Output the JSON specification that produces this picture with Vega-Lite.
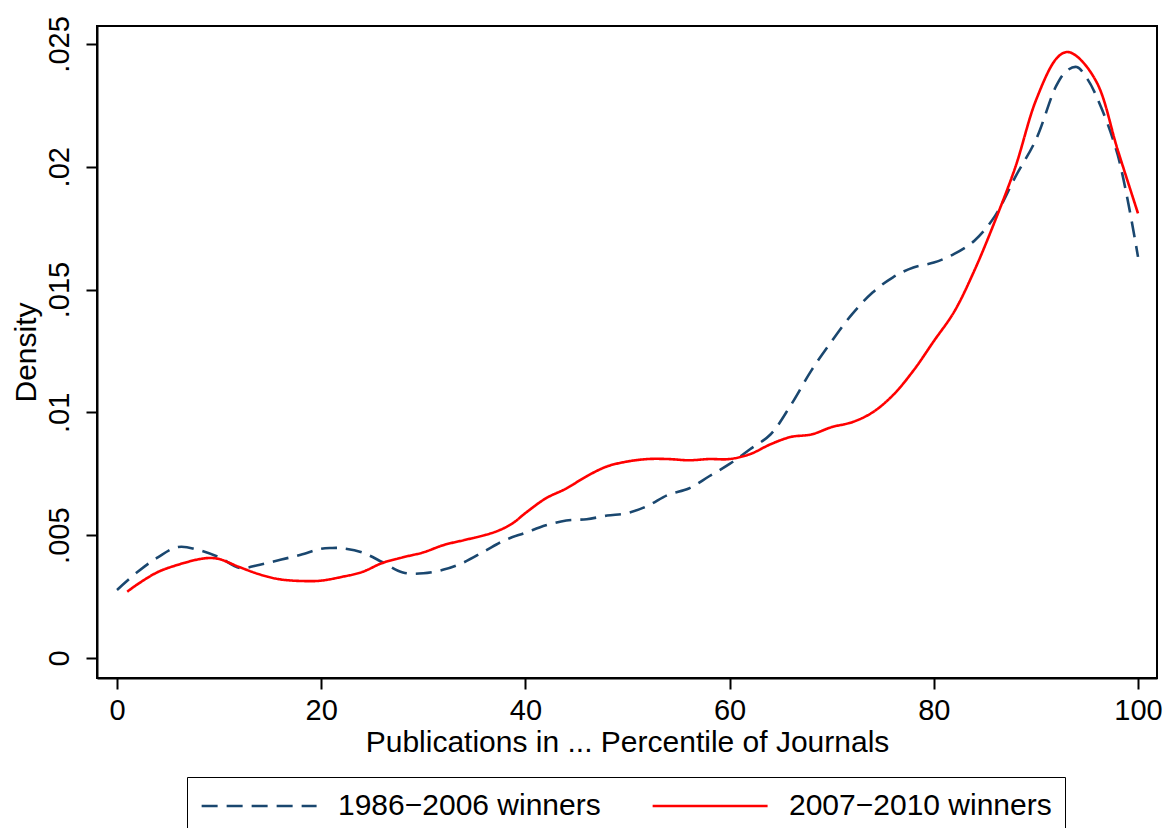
{
  "$schema": "https://vega.github.io/schema/vega-lite/v6.json",
  "width": 1060,
  "height": 652,
  "autosize": {"type": "none"},
  "padding": {"left": 97, "top": 26, "right": 9, "bottom": 150},
  "background": "white",
  "data": {
    "values": [
      {"x": 0, "d": 0.00277, "s": "1986−2006 winners"},
      {"x": 2, "d": 0.0035, "s": "1986−2006 winners"},
      {"x": 4, "d": 0.0041, "s": "1986−2006 winners"},
      {"x": 6, "d": 0.00452, "s": "1986−2006 winners"},
      {"x": 8, "d": 0.0044, "s": "1986−2006 winners"},
      {"x": 10, "d": 0.0041, "s": "1986−2006 winners"},
      {"x": 12, "d": 0.00367, "s": "1986−2006 winners"},
      {"x": 14, "d": 0.0038, "s": "1986−2006 winners"},
      {"x": 16, "d": 0.004, "s": "1986−2006 winners"},
      {"x": 18, "d": 0.0042, "s": "1986−2006 winners"},
      {"x": 20, "d": 0.00445, "s": "1986−2006 winners"},
      {"x": 21, "d": 0.00448, "s": "1986−2006 winners"},
      {"x": 22, "d": 0.00447, "s": "1986−2006 winners"},
      {"x": 24, "d": 0.0043, "s": "1986−2006 winners"},
      {"x": 26, "d": 0.0039, "s": "1986−2006 winners"},
      {"x": 28, "d": 0.00348, "s": "1986−2006 winners"},
      {"x": 30, "d": 0.00345, "s": "1986−2006 winners"},
      {"x": 32, "d": 0.0036, "s": "1986−2006 winners"},
      {"x": 34, "d": 0.0039, "s": "1986−2006 winners"},
      {"x": 36, "d": 0.00435, "s": "1986−2006 winners"},
      {"x": 38, "d": 0.0048, "s": "1986−2006 winners"},
      {"x": 40, "d": 0.0051, "s": "1986−2006 winners"},
      {"x": 42, "d": 0.0054, "s": "1986−2006 winners"},
      {"x": 44, "d": 0.0056, "s": "1986−2006 winners"},
      {"x": 46, "d": 0.00565, "s": "1986−2006 winners"},
      {"x": 48, "d": 0.0058, "s": "1986−2006 winners"},
      {"x": 50, "d": 0.0059, "s": "1986−2006 winners"},
      {"x": 52, "d": 0.0062, "s": "1986−2006 winners"},
      {"x": 54, "d": 0.00665, "s": "1986−2006 winners"},
      {"x": 56, "d": 0.0069, "s": "1986−2006 winners"},
      {"x": 58, "d": 0.0074, "s": "1986−2006 winners"},
      {"x": 60, "d": 0.0079, "s": "1986−2006 winners"},
      {"x": 62, "d": 0.0085, "s": "1986−2006 winners"},
      {"x": 64, "d": 0.0091, "s": "1986−2006 winners"},
      {"x": 66, "d": 0.0103, "s": "1986−2006 winners"},
      {"x": 68, "d": 0.0117, "s": "1986−2006 winners"},
      {"x": 70, "d": 0.0129, "s": "1986−2006 winners"},
      {"x": 72, "d": 0.014, "s": "1986−2006 winners"},
      {"x": 74, "d": 0.01488, "s": "1986−2006 winners"},
      {"x": 76, "d": 0.0155, "s": "1986−2006 winners"},
      {"x": 78, "d": 0.0159, "s": "1986−2006 winners"},
      {"x": 80, "d": 0.0161, "s": "1986−2006 winners"},
      {"x": 82, "d": 0.01645, "s": "1986−2006 winners"},
      {"x": 84, "d": 0.017, "s": "1986−2006 winners"},
      {"x": 86, "d": 0.018, "s": "1986−2006 winners"},
      {"x": 88, "d": 0.0196, "s": "1986−2006 winners"},
      {"x": 90, "d": 0.0211, "s": "1986−2006 winners"},
      {"x": 92, "d": 0.0233, "s": "1986−2006 winners"},
      {"x": 93, "d": 0.0239, "s": "1986−2006 winners"},
      {"x": 94, "d": 0.02406, "s": "1986−2006 winners"},
      {"x": 95, "d": 0.0236, "s": "1986−2006 winners"},
      {"x": 96, "d": 0.0228, "s": "1986−2006 winners"},
      {"x": 98, "d": 0.0205, "s": "1986−2006 winners"},
      {"x": 100, "d": 0.01633, "s": "1986−2006 winners"},
      {"x": 1, "d": 0.0027, "s": "2007−2010 winners"},
      {"x": 2, "d": 0.003, "s": "2007−2010 winners"},
      {"x": 4, "d": 0.0035, "s": "2007−2010 winners"},
      {"x": 6, "d": 0.0038, "s": "2007−2010 winners"},
      {"x": 8, "d": 0.00402, "s": "2007−2010 winners"},
      {"x": 9, "d": 0.00407, "s": "2007−2010 winners"},
      {"x": 10, "d": 0.00403, "s": "2007−2010 winners"},
      {"x": 12, "d": 0.0037, "s": "2007−2010 winners"},
      {"x": 14, "d": 0.0034, "s": "2007−2010 winners"},
      {"x": 16, "d": 0.0032, "s": "2007−2010 winners"},
      {"x": 18.6, "d": 0.00313, "s": "2007−2010 winners"},
      {"x": 20, "d": 0.00315, "s": "2007−2010 winners"},
      {"x": 22, "d": 0.0033, "s": "2007−2010 winners"},
      {"x": 24, "d": 0.0035, "s": "2007−2010 winners"},
      {"x": 26, "d": 0.00387, "s": "2007−2010 winners"},
      {"x": 28, "d": 0.0041, "s": "2007−2010 winners"},
      {"x": 30, "d": 0.0043, "s": "2007−2010 winners"},
      {"x": 32, "d": 0.0046, "s": "2007−2010 winners"},
      {"x": 34, "d": 0.0048, "s": "2007−2010 winners"},
      {"x": 36, "d": 0.005, "s": "2007−2010 winners"},
      {"x": 37.5, "d": 0.00521, "s": "2007−2010 winners"},
      {"x": 38.8, "d": 0.0055, "s": "2007−2010 winners"},
      {"x": 40, "d": 0.0059, "s": "2007−2010 winners"},
      {"x": 42, "d": 0.0065, "s": "2007−2010 winners"},
      {"x": 44, "d": 0.0069, "s": "2007−2010 winners"},
      {"x": 46, "d": 0.0074, "s": "2007−2010 winners"},
      {"x": 48, "d": 0.0078, "s": "2007−2010 winners"},
      {"x": 50, "d": 0.008, "s": "2007−2010 winners"},
      {"x": 52, "d": 0.0081, "s": "2007−2010 winners"},
      {"x": 54, "d": 0.0081, "s": "2007−2010 winners"},
      {"x": 56, "d": 0.00805, "s": "2007−2010 winners"},
      {"x": 58, "d": 0.0081, "s": "2007−2010 winners"},
      {"x": 60, "d": 0.0081, "s": "2007−2010 winners"},
      {"x": 62, "d": 0.0083, "s": "2007−2010 winners"},
      {"x": 64, "d": 0.0087, "s": "2007−2010 winners"},
      {"x": 66, "d": 0.009, "s": "2007−2010 winners"},
      {"x": 68, "d": 0.0091, "s": "2007−2010 winners"},
      {"x": 70, "d": 0.0094, "s": "2007−2010 winners"},
      {"x": 72, "d": 0.0096, "s": "2007−2010 winners"},
      {"x": 74, "d": 0.01, "s": "2007−2010 winners"},
      {"x": 76, "d": 0.0107, "s": "2007−2010 winners"},
      {"x": 78, "d": 0.0117, "s": "2007−2010 winners"},
      {"x": 80, "d": 0.0129, "s": "2007−2010 winners"},
      {"x": 82, "d": 0.0141, "s": "2007−2010 winners"},
      {"x": 84, "d": 0.0158, "s": "2007−2010 winners"},
      {"x": 86, "d": 0.0178, "s": "2007−2010 winners"},
      {"x": 88, "d": 0.02, "s": "2007−2010 winners"},
      {"x": 90, "d": 0.0227, "s": "2007−2010 winners"},
      {"x": 92, "d": 0.0244, "s": "2007−2010 winners"},
      {"x": 93, "d": 0.02467, "s": "2007−2010 winners"},
      {"x": 94, "d": 0.0245, "s": "2007−2010 winners"},
      {"x": 96, "d": 0.0234, "s": "2007−2010 winners"},
      {"x": 98, "d": 0.0207, "s": "2007−2010 winners"},
      {"x": 100, "d": 0.0181, "s": "2007−2010 winners"}
    ]
  },
  "mark": {"type": "line", "interpolate": "catmull-rom", "strokeWidth": 2.6},
  "encoding": {
    "x": {
      "field": "x", "type": "quantitative",
      "scale": {"domain": [-1.96, 101.86], "nice": false, "zero": false},
      "axis": {"values": [0, 20, 40, 60, 80, 100], "title": "Publications in ... Percentile of Journals", "labelPadding": 7, "titlePadding": 2}
    },
    "y": {
      "field": "d", "type": "quantitative",
      "scale": {"domain": [-0.000814, 0.02573], "nice": false, "zero": false},
      "axis": {
        "values": [0, 0.005, 0.01, 0.015, 0.02, 0.025],
        "title": "Density",
        "labelAngle": -90, "labelAlign": "center", "labelBaseline": "bottom",
        "labelPadding": 12, "titlePadding": 4,
        "labelExpr": "datum.value == 0 ? '0' : substring(format(datum.value, '.3~f'), 1)"
      }
    },
    "color": {
      "field": "s", "type": "nominal",
      "scale": {"domain": ["1986−2006 winners", "2007−2010 winners"], "range": ["#1a476f", "#ff0000"]},
      "legend": {"title": null}
    },
    "strokeDash": {
      "field": "s", "type": "nominal",
      "scale": {"domain": ["1986−2006 winners", "2007−2010 winners"], "range": [[16, 9], [1, 0]]},
      "legend": {"title": null}
    }
  },
  "config": {
    "font": "Liberation Sans",
    "view": {"stroke": "black", "strokeWidth": 2},
    "axis": {
      "grid": false,
      "domainColor": "black", "domainWidth": 2,
      "tickColor": "black", "tickWidth": 2, "tickSize": 11,
      "labelFont": "Liberation Sans", "labelFontSize": 29, "labelColor": "black",
      "titleFont": "Liberation Sans", "titleFontSize": 30, "titleColor": "black", "titleFontWeight": "normal"
    },
    "legend": {
      "orient": "none", "legendX": 90, "legendY": 751,
      "direction": "horizontal",
      "strokeColor": "black", "padding": 13,
      "symbolType": "M-1,0H7", "symbolSize": 826, "symbolStrokeWidth": 2.6,
      "labelFont": "Liberation Sans", "labelFontSize": 30, "labelColor": "black", "labelOffset": 106,
      "columnPadding": 46, "labelLimit": 400
    }
  }
}
